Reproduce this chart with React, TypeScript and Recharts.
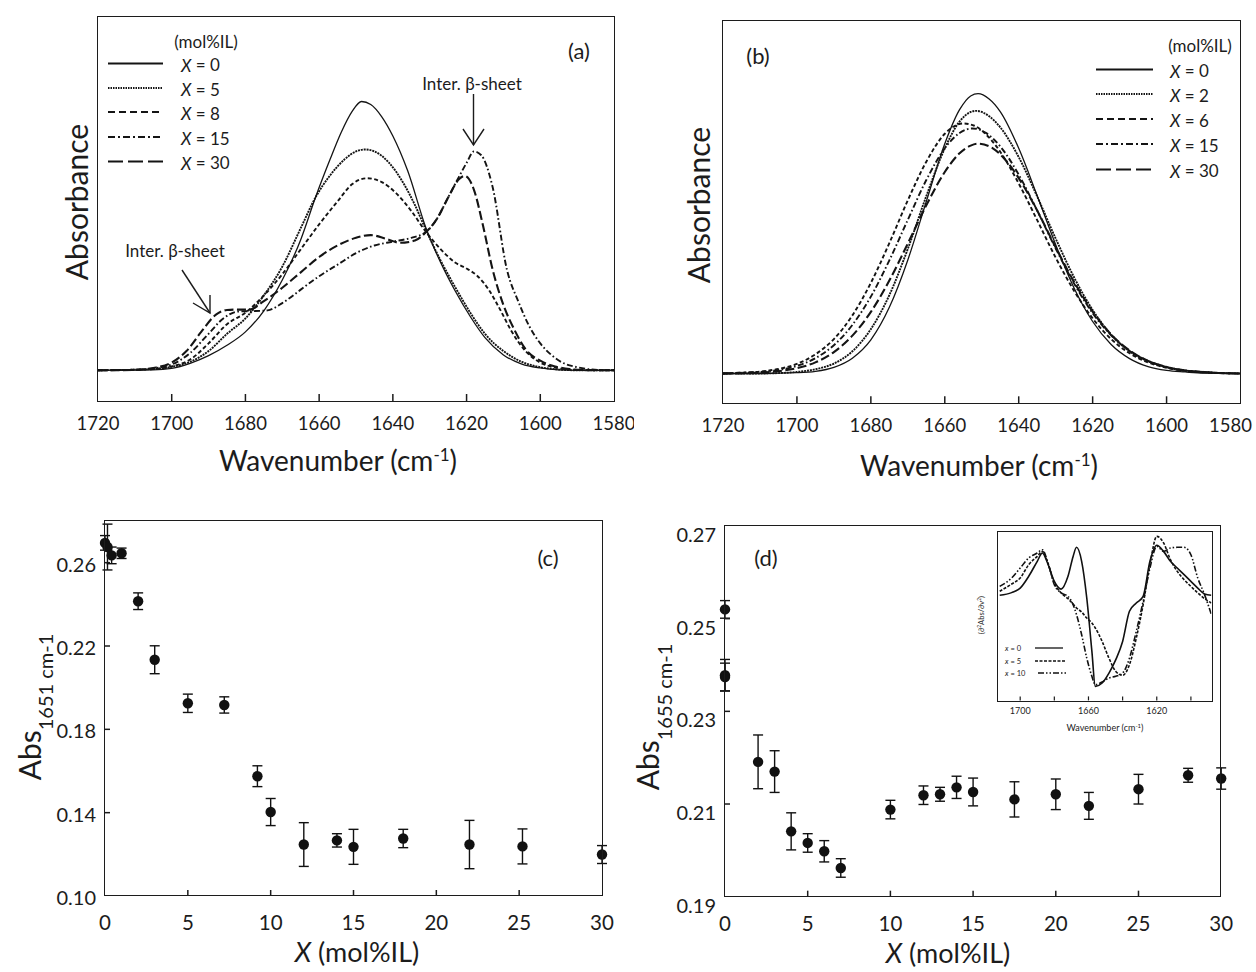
import React from 'react';
import { LineChart, Line, XAxis, YAxis, ScatterChart, Scatter, ErrorBar } from 'recharts';

const FONT = 'Lato, "Open Sans", sans-serif';
const INK = '#1c1c1c';

// ---------- (a) absorbance spectra, relative units (0 = frame bottom, 100 = frame top)
const waveA0 = [1720, 1705, 1700, 1695, 1690, 1685, 1680, 1675, 1670, 1665, 1661, 1657, 1654, 1651, 1648.5, 1646, 1643, 1640, 1636, 1631, 1627, 1623, 1619, 1615, 1610, 1605, 1600, 1595, 1590, 1580];
const absA0 = [8, 8.1, 8.5, 9.8, 11.8, 14.5, 18, 23.5, 31.5, 42, 53, 63, 70, 75.5, 78, 77.2, 74, 69, 60, 45, 36, 28.5, 22, 16.5, 12, 9.6, 8.6, 8.1, 8, 8];
const waveA5 = [1720, 1705, 1700, 1695, 1690, 1685, 1680, 1675, 1670, 1665, 1661, 1657, 1653, 1650, 1647.5, 1645, 1641, 1637, 1634, 1631, 1627, 1623, 1619, 1615, 1610, 1605, 1600, 1595, 1590, 1580];
const absA5 = [8, 8.3, 8.9, 10.2, 13, 17.5, 21.5, 27.5, 35, 45, 53, 58.8, 63, 65, 65.5, 65, 62, 56.5, 51, 44.5, 36.5, 29.5, 23, 17.5, 13, 10.2, 8.8, 8.2, 8, 8];
const waveA8 = [1720, 1705, 1700, 1695, 1690, 1685, 1680, 1675, 1670, 1665, 1660, 1655, 1651, 1647, 1643, 1639, 1635, 1631, 1627, 1623, 1620, 1617, 1614, 1611, 1608, 1604, 1600, 1596, 1592, 1585, 1580];
const absA8 = [8, 8.3, 9, 10.8, 15, 20, 23, 27.5, 33, 39.5, 46, 52, 56.5, 58, 57, 54, 49.5, 44, 39.5, 36, 34.5, 32.5, 29, 24, 18.5, 13, 10, 8.7, 8.2, 8, 8];
const waveA15 = [1720, 1710, 1705, 1700, 1695, 1690, 1686, 1682, 1678, 1674, 1670, 1665, 1660, 1655, 1650, 1645, 1640, 1635, 1631, 1628, 1625, 1622, 1620, 1618, 1616, 1613, 1609, 1606, 1603, 1600, 1597, 1594, 1590, 1586, 1580];
const absA15 = [8, 8.1, 8.5, 9.5, 12.5, 17.5, 21.5, 23.3, 23.4, 23.6, 25.5, 29, 32.5, 35.5, 38.5, 40.5, 41.5, 42.5, 44, 47.5, 53, 58.5, 62, 65, 64, 56, 34, 26, 19.5, 15, 12, 10, 8.8, 8.2, 8];
const waveA30 = [1720, 1710, 1705, 1700, 1696, 1692, 1688, 1685, 1682, 1679, 1675, 1670, 1665, 1660, 1655, 1650, 1646, 1642, 1638, 1634, 1631, 1628, 1625, 1622, 1620.5, 1618, 1615.5, 1613, 1610, 1607, 1604, 1600, 1596, 1592, 1588, 1580];
const absA30 = [8, 8.1, 8.6, 10, 13, 18, 22.5, 23.7, 23.8, 23.8, 26, 29.5, 33.5, 37.5, 40.5, 42.5, 43.2, 42.3, 41.2, 41.8, 44, 47.5, 53, 57.8, 58.6, 55, 45.5, 34.5, 25, 18.5, 13.5, 10.5, 9, 8.3, 8.1, 8];

// ---------- (b)
const waveB0 = [1720, 1710, 1700, 1695, 1690, 1685, 1680, 1675, 1670, 1665, 1660, 1656, 1653, 1651, 1648, 1645, 1640, 1635, 1630, 1625, 1620, 1615, 1610, 1605, 1600, 1595, 1590, 1580];
const absB0 = [7.8, 7.8, 8.0, 8.35, 9.4, 11.8, 16.6, 25.1, 37.5, 52.8, 67.9, 76.8, 80.4, 81, 79.6, 76.3, 66.7, 54.3, 41.5, 30.1, 21.4, 15.4, 11.7, 9.6, 8.6, 8.2, 7.9, 7.8];
const waveB2 = [1720, 1710, 1705, 1700, 1695, 1690, 1685, 1680, 1675, 1670, 1665, 1660, 1656, 1653, 1651.5, 1648, 1645, 1640, 1635, 1630, 1625, 1620, 1615, 1610, 1605, 1600, 1595, 1590, 1585, 1580];
const absB2 = [7.8, 7.8, 7.9, 8.2, 8.9, 10.4, 13.6, 19.4, 28.3, 40.4, 54.2, 66.7, 73.7, 76.2, 76.5, 75.1, 72.2, 64.4, 54.1, 43.1, 32.9, 24.4, 18.0, 13.6, 11.0, 9.4, 8.5, 8.1, 7.9, 7.8];
const waveB6 = [1720, 1715, 1710, 1705, 1700, 1695, 1690, 1685, 1680, 1675, 1670, 1665, 1660, 1657, 1655, 1652, 1648, 1645, 1640, 1635, 1630, 1625, 1620, 1615, 1610, 1605, 1600, 1595, 1590, 1585, 1580];
const absB6 = [7.8, 8.0, 8.3, 9.0, 10.3, 12.8, 16.8, 23.0, 31.5, 41.9, 53.1, 63.2, 70.5, 72.7, 73.2, 72.6, 69.5, 65.8, 57.5, 47.9, 38.1, 29.4, 22.2, 16.8, 13.1, 10.7, 9.3, 8.5, 8.1, 7.9, 7.8];
const waveB15 = [1720, 1715, 1710, 1705, 1700, 1695, 1690, 1685, 1680, 1675, 1670, 1665, 1660, 1656, 1652.5, 1649, 1645, 1640, 1635, 1630, 1625, 1620, 1615, 1610, 1605, 1600, 1595, 1590, 1585, 1580];
const absB15 = [7.8, 8.0, 8.2, 8.7, 9.8, 11.8, 15.2, 20.5, 27.9, 37.4, 48.0, 58.4, 66.7, 70.7, 71.9, 70.8, 67.2, 59.8, 50.4, 40.5, 31.3, 23.6, 17.8, 13.7, 11.1, 9.5, 8.6, 8.2, 7.9, 7.8];
const waveB30 = [1720, 1710, 1705, 1700, 1695, 1690, 1685, 1680, 1675, 1670, 1665, 1660, 1656, 1653, 1651, 1647, 1643, 1640, 1635, 1630, 1625, 1620, 1615, 1610, 1605, 1600, 1595, 1590, 1585, 1580];
const absB30 = [7.8, 8.0, 8.4, 9.2, 10.7, 13.4, 17.7, 23.9, 32.1, 41.8, 51.8, 60.5, 65.4, 67.4, 67.9, 66.7, 63.0, 58.9, 50.4, 40.8, 31.7, 24.0, 18.0, 13.8, 11.1, 9.5, 8.6, 8.2, 7.9, 7.8];

const waveTicks = [1720, 1700, 1680, 1660, 1640, 1620, 1600, 1580];

// ---------- (c) Abs at 1651 cm-1 vs X
const xC = [0, 0.15, 0.4, 1, 2, 3, 5, 7.2, 9.2, 10, 12, 14, 15, 18, 22, 25.2, 30];
const absC = [0.2695, 0.2675, 0.2635, 0.2645, 0.2415, 0.2134, 0.1925, 0.1917, 0.1575, 0.1403, 0.1247, 0.1267, 0.1236, 0.1276, 0.1247, 0.1238, 0.1199];
const errC = [0.0035, 0.011, 0.004, 0.0025, 0.004, 0.0067, 0.0044, 0.0039, 0.005, 0.0065, 0.0105, 0.0032, 0.0084, 0.0044, 0.0116, 0.0084, 0.0043];
const ticksYC = [0.10, 0.14, 0.18, 0.22, 0.26];

// ---------- (d) Abs at 1655 cm-1 vs X
const xD = [0, 0, 0, 2, 3, 4, 5, 6, 7, 10, 12, 13, 14, 15, 17.5, 20, 22, 25, 28, 30];
const absD = [0.252, 0.2378, 0.2374, 0.2191, 0.217, 0.2041, 0.2016, 0.1998, 0.1962, 0.2088, 0.2119, 0.2121, 0.2136, 0.2126, 0.211, 0.2121, 0.2096, 0.2132, 0.2162, 0.2155];
const errD = [0.0019, 0.0034, 0.003, 0.0058, 0.0045, 0.004, 0.002, 0.0023, 0.002, 0.002, 0.002, 0.0015, 0.0024, 0.003, 0.0038, 0.0033, 0.0029, 0.0032, 0.0015, 0.0023];
const ticksYD = [0.19, 0.21, 0.23, 0.25, 0.27];
const ticksX = [0, 5, 10, 15, 20, 25, 30];

// ---------- (d) inset: second derivative (relative units)
const waveIn = [1712, 1705, 1700, 1695, 1690, 1687, 1684, 1680, 1676, 1672, 1669, 1667, 1664, 1661, 1658, 1656, 1652, 1648, 1644, 1640, 1636, 1632, 1628, 1624, 1620, 1616, 1612, 1608, 1604, 1600, 1596, 1592, 1588];
const d2x0 = [62.4, 64, 66.7, 73.7, 82.6, 87.5, 81.6, 70.7, 66.1, 73.7, 85.5, 90.9, 82.6, 60.8, 29.1, 8.3, 10.3, 16.2, 24.2, 35, 52.9, 57.8, 61.8, 82.6, 92.1, 88.5, 82.6, 78.6, 74.7, 70.7, 66.7, 63.2, 62.4];
const d2x5 = [64.8, 69.1, 72.7, 80.6, 85.5, 88.5, 82.2, 69.7, 63.8, 60.4, 57.2, 54.9, 52.5, 48.9, 45.9, 43, 35, 25.1, 17.2, 14.9, 21.2, 37, 56.8, 80.6, 97.4, 93.5, 83.6, 76.6, 71.7, 67.7, 63.8, 60.4, 57.8];
const d2x10 = [67.7, 72.7, 78.6, 84.6, 87.5, 89.5, 82.6, 68.7, 63.8, 61.8, 56.8, 50.9, 39, 25.1, 14.3, 9.3, 10.9, 13.3, 14.3, 16.2, 25.1, 41, 58.8, 78.6, 91.5, 88.5, 90.5, 90.9, 90.9, 86.5, 72.7, 62.8, 50.9];
const insetTicks = [1700, 1680, 1660, 1640, 1620, 1600];

const pts = (ws: number[], vs: number[]) => ws.map((w, i) => ({ w, v: vs[i] }));
const sc = (xs: number[], ys: number[], es: number[]) => xs.map((x, i) => ({ x, y: ys[i], e: es[i] }));

const DASH = {
  dotted: '2 0.9',
  dashed: '4 2.5',
  dashdot: '6 2.5 1.6 2.5',
  longdash: '9 3.5',
};
const LEG_DASH = {
  dotted: '1.5 1',
  dashed: '7 4',
  dashdot: '7 3 2 3',
  longdash: '15 5',
};

const seriesA = [
  { data: pts(waveA0, absA0), dash: undefined, sw: 1.3 },
  { data: pts(waveA5, absA5), dash: DASH.dotted, sw: 1.9 },
  { data: pts(waveA8, absA8), dash: DASH.dashed, sw: 1.9 },
  { data: pts(waveA15, absA15), dash: DASH.dashdot, sw: 1.9 },
  { data: pts(waveA30, absA30), dash: DASH.longdash, sw: 2.1 },
];
const seriesB = [
  { data: pts(waveB0, absB0), dash: undefined, sw: 1.3 },
  { data: pts(waveB2, absB2), dash: DASH.dotted, sw: 1.9 },
  { data: pts(waveB6, absB6), dash: DASH.dashed, sw: 1.9 },
  { data: pts(waveB15, absB15), dash: DASH.dashdot, sw: 1.9 },
  { data: pts(waveB30, absB30), dash: DASH.longdash, sw: 2.1 },
];

const WaveTick = (p: any) => {
  const v = p.payload.value;
  const edge = v === 1720 || v === 1580;
  const shift = v === 1580 ? p.lastShift || 0 : 0;
  return (
    <g>
      {!edge && <line x1={p.x} x2={p.x} y1={p.y} y2={p.y - 7} stroke={INK} strokeWidth={1.5} />}
      <text x={p.x + shift} y={p.y + 22} textAnchor="middle" dominantBaseline="central" fontFamily={FONT} fontSize={18.5} fill={INK}>
        {v}
      </text>
    </g>
  );
};

const XTick = (p: any) => {
  const edge = p.payload.value === 0 || p.payload.value === 30;
  return (
    <g>
      {!edge && <line x1={p.x} x2={p.x} y1={p.y} y2={p.y - 6} stroke={INK} strokeWidth={1.5} />}
      <text x={p.x} y={p.y + 26} textAnchor="middle" dominantBaseline="central" fontFamily={FONT} fontSize={20.5} fill={INK}>
        {p.payload.value}
      </text>
    </g>
  );
};

const makeYTick = (dy: number, lo: number, hi: number) => (p: any) => {
  const v = p.payload.value;
  const edge = Math.abs(v - lo) < 1e-9 || Math.abs(v - hi) < 1e-9;
  return (
    <g>
      {!edge && <line x1={p.x} x2={p.x + 5} y1={p.y} y2={p.y} stroke={INK} strokeWidth={1.5} />}
      <text x={p.x - 9} y={p.y + dy} textAnchor="end" dominantBaseline="central" fontFamily={FONT} fontSize={20} fill={INK}>
        {v.toFixed(2)}
      </text>
    </g>
  );
};

const InsetTick = (p: any) => {
  const v = p.payload.value;
  return (
    <g>
      <line x1={p.x} x2={p.x} y1={p.y} y2={p.y - 4} stroke={INK} strokeWidth={1.2} />
      {(v === 1700 || v === 1660 || v === 1620) && (
        <text x={p.x} y={p.y + 10} textAnchor="middle" dominantBaseline="central" fontFamily={FONT} fontSize={9} fill={INK}>
          {v}
        </text>
      )}
    </g>
  );
};

const BlackDot = (p: any) => <circle cx={p.cx} cy={p.cy} r={5.2} fill="#111" />;

const Frame = ({ l, t, w, h, sw = 1.6, bg }: { l: number; t: number; w: number; h: number; sw?: number; bg?: string }) => (
  <div
    style={{
      position: 'absolute', left: l - sw / 2, top: t - sw / 2, width: w + sw, height: h + sw,
      border: `${sw}px solid ${INK}`, boxSizing: 'border-box', background: bg, pointerEvents: 'none',
    }}
  />
);

function Spectrum({ l, t, w, h, series, lastShift = 0 }: { l: number; t: number; w: number; h: number; series: typeof seriesA; lastShift?: number }) {
  return (
    <div style={{ position: 'absolute', left: l - 20, top: t - 10 }}>
      <LineChart width={w + 40} height={h + 50} margin={{ top: 10, right: 20, bottom: 0, left: 20 }}>
        <XAxis dataKey="w" type="number" domain={[1580, 1720]} reversed ticks={waveTicks} interval={0}
          axisLine={false} tickLine={false} tickSize={0} tickMargin={0} height={40} tick={<WaveTick lastShift={lastShift} />} allowDataOverflow />
        <YAxis type="number" domain={[0, 100]} hide allowDataOverflow />
        {series.map((s, i) => (
          <Line key={i} data={s.data} dataKey="v" type="monotone" dot={false} stroke="#141414"
            strokeWidth={s.sw} strokeDasharray={s.dash} isAnimationActive={false} />
        ))}
      </LineChart>
    </div>
  );
}

function Points({ l, t, w, h, data, domain, ticks, dy }: any) {
  return (
    <div style={{ position: 'absolute', left: l - 60, top: t - 10 }}>
      <ScatterChart width={w + 80} height={h + 50} margin={{ top: 10, right: 20, bottom: 0, left: 0 }}>
        <XAxis dataKey="x" type="number" domain={[0, 30]} ticks={ticksX} interval={0}
          axisLine={false} tickLine={false} tickSize={0} tickMargin={0} height={40} tick={<XTick />} />
        <YAxis dataKey="y" type="number" domain={domain} ticks={ticks} interval={0} width={60}
          axisLine={false} tickLine={false} tickSize={0} tickMargin={0} tick={makeYTick(dy, domain[0], domain[1])} />
        <Scatter data={data} shape={<BlackDot />} isAnimationActive={false}>
          <ErrorBar dataKey="e" direction="y" width={5} stroke="#111" strokeWidth={1.4} isAnimationActive={false} />
        </Scatter>
      </ScatterChart>
    </div>
  );
}

function Inset({ l, t, w, h }: { l: number; t: number; w: number; h: number }) {
  return (
    <div style={{ position: 'absolute', left: l - 5, top: t - 5 }}>
      <LineChart width={w + 10} height={h + 25} margin={{ top: 5, right: 5, bottom: 0, left: 5 }}>
        <XAxis dataKey="w" type="number" domain={[1588, 1713]} reversed ticks={insetTicks} interval={0}
          axisLine={false} tickLine={false} tickSize={0} tickMargin={0} height={20} tick={<InsetTick />} allowDataOverflow />
        <YAxis type="number" domain={[0, 100]} hide allowDataOverflow />
        <Line data={pts(waveIn, d2x0)} dataKey="v" type="monotone" dot={false} stroke="#111" strokeWidth={1.6} isAnimationActive={false} />
        <Line data={pts(waveIn, d2x5)} dataKey="v" type="monotone" dot={false} stroke="#111" strokeWidth={1.6} strokeDasharray="3 1.5" isAnimationActive={false} />
        <Line data={pts(waveIn, d2x10)} dataKey="v" type="monotone" dot={false} stroke="#111" strokeWidth={1.6} strokeDasharray="6 2 1.5 2 1.5 2" isAnimationActive={false} />
      </LineChart>
    </div>
  );
}

const X = () => <tspan fontStyle="italic">X</tspan>;

function LegendRows({ x0, x1, tx, rows, labels }: { x0: number; x1: number; tx: number; rows: number[]; labels: string[] }) {
  const dashes = [undefined, LEG_DASH.dotted, LEG_DASH.dashed, LEG_DASH.dashdot, LEG_DASH.longdash];
  return (
    <g>
      {rows.map((y, i) => (
        <g key={i}>
          <line x1={x0} x2={x1} y1={y} y2={y} stroke="#141414" strokeWidth={i === 1 ? 1.8 : 2} strokeDasharray={dashes[i]} />
          <text x={tx} y={y + 1} dominantBaseline="central" fontSize={17}>
            <X /> = {labels[i]}
          </text>
        </g>
      ))}
    </g>
  );
}

function Overlay() {
  return (
    <svg width={1256} height={972} style={{ position: 'absolute', left: 0, top: 0, pointerEvents: 'none' }}
      fontFamily={FONT} fill={INK}>
      {/* (a) */}
      <text x={206} y={41} textAnchor="middle" dominantBaseline="central" fontSize={17}>(mol%IL)</text>
      <LegendRows x0={108} x1={163} tx={181} rows={[63.5, 88, 112, 137, 161.5]} labels={['0', '5', '8', '15', '30']} />
      <text x={579} y={50} textAnchor="middle" dominantBaseline="central" fontSize={22}>(a)</text>
      <text x={472} y={83} textAnchor="middle" dominantBaseline="central" fontSize={17}>Inter. β-sheet</text>
      <g stroke={INK} strokeWidth={1.4} fill="none">
        <line x1={473.5} y1={94} x2={473.5} y2={145} />
        <polyline points="463,129 473.5,145 484,129" />
        <line x1={182} y1={270} x2={210} y2={313} />
        <polyline points="193,303 210,313 210,295" />
      </g>
      <text x={175} y={250} textAnchor="middle" dominantBaseline="central" fontSize={17}>Inter. β-sheet</text>
      <text transform="translate(88,202) rotate(-90)" textAnchor="middle" fontSize={30}>Absorbance</text>
      <text x={338} y={471} textAnchor="middle" fontSize={28}>
        Wavenumber (cm<tspan dy={-10} fontSize={17}>-1</tspan><tspan dy={10}>)</tspan>
      </text>

      {/* (b) */}
      <text x={1200} y={45} textAnchor="middle" dominantBaseline="central" fontSize={17}>(mol%IL)</text>
      <LegendRows x0={1096} x1={1153} tx={1170} rows={[69.5, 94, 119, 144, 169.5]} labels={['0', '2', '6', '15', '30']} />
      <text x={758} y={55} textAnchor="middle" dominantBaseline="central" fontSize={22}>(b)</text>
      <text transform="translate(710,205) rotate(-90)" textAnchor="middle" fontSize={30}>Absorbance</text>
      <text x={979} y={476} textAnchor="middle" fontSize={28}>
        Wavenumber (cm<tspan dy={-10} fontSize={17}>-1</tspan><tspan dy={10}>)</tspan>
      </text>

      {/* (c) */}
      <text x={548} y={557} textAnchor="middle" dominantBaseline="central" fontSize={22}>(c)</text>
      <text transform="translate(41,707) rotate(-90)" textAnchor="middle" fontSize={30}>
        Abs<tspan fontSize={20} dy={12}>1651 cm-1</tspan>
      </text>
      <text x={357} y={962} textAnchor="middle" fontSize={27}>
        <X /> (mol%IL)
      </text>

      {/* (d) */}
      <text x={766} y={557} textAnchor="middle" dominantBaseline="central" fontSize={22}>(d)</text>
      <text transform="translate(659,717) rotate(-90)" textAnchor="middle" fontSize={30}>
        Abs<tspan fontSize={20} dy={13}>1655 cm-1</tspan>
      </text>
      <text x={948} y={963} textAnchor="middle" fontSize={27}>
        <X /> (mol%IL)
      </text>

      {/* inset labels */}
      <text transform="translate(984,615) rotate(-90)" textAnchor="middle" fontSize={7.5}>
        (∂<tspan dy={-3} fontSize={5}>2</tspan><tspan dy={3}>Abs/∂ν</tspan><tspan dy={-3} fontSize={5}>2</tspan><tspan dy={3}>)</tspan>
      </text>
      <text x={1105} y={731} textAnchor="middle" fontSize={9}>
        Wavenumber (cm<tspan dy={-3} fontSize={6}>-1</tspan><tspan dy={3}>)</tspan>
      </text>
      <g fontSize={7.5}>
        <text x={1005} y={648} dominantBaseline="central"><tspan fontStyle="italic">x</tspan> = 0</text>
        <text x={1005} y={661} dominantBaseline="central"><tspan fontStyle="italic">x</tspan> = 5</text>
        <text x={1005} y={673} dominantBaseline="central"><tspan fontStyle="italic">x</tspan> = 10</text>
      </g>
      <g stroke="#111" strokeWidth={1.3}>
        <line x1={1035} x2={1063} y1={648} y2={648} />
        <line x1={1035} x2={1065} y1={661} y2={661} strokeDasharray="3 1.5" />
        <line x1={1038} x2={1068} y1={673} y2={673} strokeDasharray="6 2 1.5 2 1.5 2" />
      </g>
    </svg>
  );
}

export default function App() {
  return (
    <div style={{ position: 'absolute', left: 0, top: 0, width: 1256, height: 972, background: '#fff', fontFamily: FONT, color: INK, overflow: 'hidden' }}>
      <Spectrum l={98} t={17} w={516} h={384} series={seriesA} />
      <Frame l={98} t={17} w={516} h={384} />
      <Spectrum l={722.5} t={20.7} w={517.5} h={382.3} series={seriesB} lastShift={-10} />
      <Frame l={722.5} t={20.7} w={517.5} h={382.3} />
      <Points l={105} t={520.7} w={497} h={375} data={sc(xC, absC, errC)} domain={[0.1, 0.28]} ticks={ticksYC} dy={1} />
      <Frame l={105} t={520.7} w={497} h={375} />
      <Points l={724.5} t={526} w={496.2} h={370.7} data={sc(xD, absD, errD)} domain={[0.19, 0.27]} ticks={ticksYD} dy={8} />
      <Frame l={724.5} t={526} w={496.2} h={370.7} />
      <Frame l={998.3} t={532.3} w={213.4} h={168.4} sw={1.8} bg="#fff" />
      <Inset l={998.3} t={532.3} w={213.4} h={168.4} />
      <Overlay />
    </div>
  );
}
